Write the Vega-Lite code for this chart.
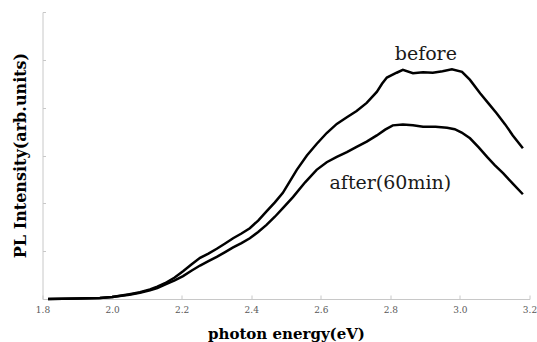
{
  "$schema": "https://vega.github.io/schema/vega-lite/v6.json",
  "autosize": "none",
  "width": 487,
  "height": 287,
  "padding": {"left": 42.5, "top": 12, "right": 7.5, "bottom": 43},
  "background": "white",
  "config": {"view": {"stroke": null}},
  "datasets": {
    "spectra": [
      {"energy": 1.816, "intensity": 0.0, "series": "before"},
      {"energy": 1.9, "intensity": 0.01, "series": "before"},
      {"energy": 1.965, "intensity": 0.02, "series": "before"},
      {"energy": 2.0, "intensity": 0.04, "series": "before"},
      {"energy": 2.05, "intensity": 0.1, "series": "before"},
      {"energy": 2.08, "intensity": 0.14, "series": "before"},
      {"energy": 2.109, "intensity": 0.2, "series": "before"},
      {"energy": 2.13, "intensity": 0.26, "series": "before"},
      {"energy": 2.152, "intensity": 0.33, "series": "before"},
      {"energy": 2.18, "intensity": 0.45, "series": "before"},
      {"energy": 2.204, "intensity": 0.58, "series": "before"},
      {"energy": 2.228, "intensity": 0.72, "series": "before"},
      {"energy": 2.253, "intensity": 0.86, "series": "before"},
      {"energy": 2.277, "intensity": 0.95, "series": "before"},
      {"energy": 2.301, "intensity": 1.05, "series": "before"},
      {"energy": 2.325, "intensity": 1.16, "series": "before"},
      {"energy": 2.348, "intensity": 1.27, "series": "before"},
      {"energy": 2.372, "intensity": 1.37, "series": "before"},
      {"energy": 2.396, "intensity": 1.48, "series": "before"},
      {"energy": 2.42, "intensity": 1.64, "series": "before"},
      {"energy": 2.444, "intensity": 1.83, "series": "before"},
      {"energy": 2.468, "intensity": 2.02, "series": "before"},
      {"energy": 2.491, "intensity": 2.22, "series": "before"},
      {"energy": 2.511, "intensity": 2.46, "series": "before"},
      {"energy": 2.531, "intensity": 2.7, "series": "before"},
      {"energy": 2.56, "intensity": 3.0, "series": "before"},
      {"energy": 2.588, "intensity": 3.24, "series": "before"},
      {"energy": 2.617, "intensity": 3.47, "series": "before"},
      {"energy": 2.646, "intensity": 3.66, "series": "before"},
      {"energy": 2.675, "intensity": 3.8, "series": "before"},
      {"energy": 2.703, "intensity": 3.93, "series": "before"},
      {"energy": 2.732, "intensity": 4.1, "series": "before"},
      {"energy": 2.761, "intensity": 4.33, "series": "before"},
      {"energy": 2.776, "intensity": 4.5, "series": "before"},
      {"energy": 2.79, "intensity": 4.63, "series": "before"},
      {"energy": 2.818, "intensity": 4.73, "series": "before"},
      {"energy": 2.836, "intensity": 4.79, "series": "before"},
      {"energy": 2.865, "intensity": 4.72, "series": "before"},
      {"energy": 2.894, "intensity": 4.74, "series": "before"},
      {"energy": 2.922, "intensity": 4.73, "series": "before"},
      {"energy": 2.95, "intensity": 4.76, "series": "before"},
      {"energy": 2.977, "intensity": 4.8, "series": "before"},
      {"energy": 3.006, "intensity": 4.75, "series": "before"},
      {"energy": 3.029, "intensity": 4.58, "series": "before"},
      {"energy": 3.058, "intensity": 4.3, "series": "before"},
      {"energy": 3.082, "intensity": 4.09, "series": "before"},
      {"energy": 3.106, "intensity": 3.88, "series": "before"},
      {"energy": 3.13, "intensity": 3.65, "series": "before"},
      {"energy": 3.152, "intensity": 3.42, "series": "before"},
      {"energy": 3.181, "intensity": 3.15, "series": "before"},
      {"energy": 1.816, "intensity": 0.0, "series": "after"},
      {"energy": 1.9, "intensity": 0.01, "series": "after"},
      {"energy": 1.965, "intensity": 0.02, "series": "after"},
      {"energy": 2.0, "intensity": 0.04, "series": "after"},
      {"energy": 2.05, "intensity": 0.09, "series": "after"},
      {"energy": 2.08, "intensity": 0.13, "series": "after"},
      {"energy": 2.109, "intensity": 0.18, "series": "after"},
      {"energy": 2.13, "intensity": 0.23, "series": "after"},
      {"energy": 2.152, "intensity": 0.3, "series": "after"},
      {"energy": 2.18, "intensity": 0.39, "series": "after"},
      {"energy": 2.204, "intensity": 0.48, "series": "after"},
      {"energy": 2.228, "intensity": 0.59, "series": "after"},
      {"energy": 2.253, "intensity": 0.7, "series": "after"},
      {"energy": 2.277, "intensity": 0.79, "series": "after"},
      {"energy": 2.301, "intensity": 0.88, "series": "after"},
      {"energy": 2.325, "intensity": 0.98, "series": "after"},
      {"energy": 2.348, "intensity": 1.08, "series": "after"},
      {"energy": 2.372, "intensity": 1.17, "series": "after"},
      {"energy": 2.396, "intensity": 1.27, "series": "after"},
      {"energy": 2.42, "intensity": 1.4, "series": "after"},
      {"energy": 2.444, "intensity": 1.55, "series": "after"},
      {"energy": 2.468, "intensity": 1.72, "series": "after"},
      {"energy": 2.491, "intensity": 1.9, "series": "after"},
      {"energy": 2.52, "intensity": 2.13, "series": "after"},
      {"energy": 2.555, "intensity": 2.44, "series": "after"},
      {"energy": 2.588, "intensity": 2.7, "series": "after"},
      {"energy": 2.617, "intensity": 2.86, "series": "after"},
      {"energy": 2.646, "intensity": 2.97, "series": "after"},
      {"energy": 2.675, "intensity": 3.07, "series": "after"},
      {"energy": 2.703, "intensity": 3.18, "series": "after"},
      {"energy": 2.732, "intensity": 3.29, "series": "after"},
      {"energy": 2.761, "intensity": 3.42, "series": "after"},
      {"energy": 2.785, "intensity": 3.54, "series": "after"},
      {"energy": 2.807, "intensity": 3.63, "series": "after"},
      {"energy": 2.836, "intensity": 3.65, "series": "after"},
      {"energy": 2.865, "intensity": 3.63, "series": "after"},
      {"energy": 2.894, "intensity": 3.6, "series": "after"},
      {"energy": 2.93, "intensity": 3.6, "series": "after"},
      {"energy": 2.963, "intensity": 3.58, "series": "after"},
      {"energy": 2.985, "intensity": 3.55, "series": "after"},
      {"energy": 3.005, "intensity": 3.48, "series": "after"},
      {"energy": 3.029, "intensity": 3.36, "series": "after"},
      {"energy": 3.054, "intensity": 3.17, "series": "after"},
      {"energy": 3.078, "intensity": 2.97, "series": "after"},
      {"energy": 3.1, "intensity": 2.8, "series": "after"},
      {"energy": 3.124, "intensity": 2.63, "series": "after"},
      {"energy": 3.152, "intensity": 2.41, "series": "after"},
      {"energy": 3.181, "intensity": 2.19, "series": "after"}
    ],
    "labels": [
      {"energy": 2.902, "intensity": 5.12, "text": "before"},
      {"energy": 2.8, "intensity": 2.42, "text": "after(60min)"}
    ]
  },
  "layer": [
    {
      "data": {"name": "spectra"},
      "mark": {"type": "line", "color": "black", "strokeWidth": 2.5},
      "encoding": {
        "x": {
          "field": "energy", "type": "quantitative",
          "scale": {"domain": [1.8, 3.2], "nice": false, "zero": false},
          "axis": {
            "values": [1.8, 2.0, 2.2, 2.4, 2.6, 2.8, 3.0, 3.2],
            "format": ".1f",
            "title": "photon energy(eV)",
            "grid": false,
            "domainColor": "#c8c8c8",
            "tickColor": "#c8c8c8",
            "tickSize": -4,
            "labelFont": "DejaVu Serif",
            "labelFontSize": 9,
            "labelColor": "#595959",
            "labelPadding": 10,
            "labelFlush": false,
            "titleFont": "DejaVu Serif",
            "titleFontSize": 15,
            "titleFontWeight": "bold",
            "titleColor": "black",
            "titleX": 243.5,
            "titleY": 39.5,
            "titleBaseline": "alphabetic"
          }
        },
        "y": {
          "field": "intensity", "type": "quantitative",
          "scale": {"domain": [0, 6], "nice": false},
          "axis": {
            "values": [0, 1, 2, 3, 4, 5, 6],
            "labels": false,
            "title": "PL Intensity(arb.units)",
            "grid": false,
            "domainColor": "#c8c8c8",
            "tickColor": "#c8c8c8",
            "tickSize": -3,
            "titleFont": "DejaVu Serif",
            "titleFontSize": 16,
            "titleFontWeight": "bold",
            "titleColor": "black",
            "titleX": -22.5,
            "titleY": 143,
            "titleBaseline": "middle",
            "titleAlign": "center"
          }
        },
        "detail": {"field": "series"}
      }
    },
    {
      "data": {"name": "labels"},
      "mark": {"type": "text", "font": "DejaVu Serif", "fontSize": 19, "color": "#1a1a1a", "align": "center", "baseline": "middle"},
      "encoding": {
        "x": {"field": "energy", "type": "quantitative"},
        "y": {"field": "intensity", "type": "quantitative"},
        "text": {"field": "text"}
      }
    }
  ]
}
